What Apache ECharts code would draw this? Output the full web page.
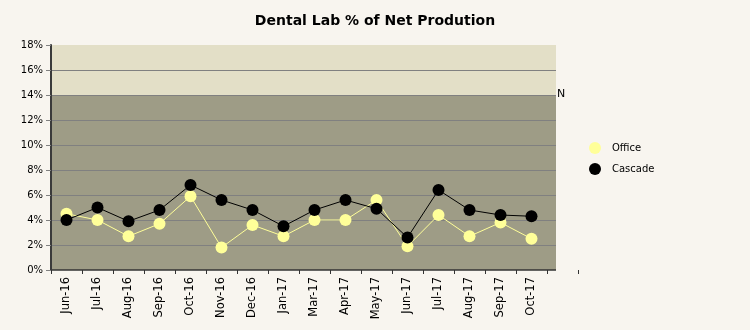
<!DOCTYPE html>
<html>
<head>
<meta charset="utf-8">
<script src="https://cdn.jsdelivr.net/npm/echarts@6/dist/echarts.min.js"></script>
<style>
html,body{margin:0;padding:0;background:#F8F5EF;}
#c{width:750px;height:330px;}
</style>
</head>
<body>
<div id="c"></div>
<script>
var categories = ['Jun-16','Jul-16','Aug-16','Sep-16','Oct-16','Nov-16','Dec-16','Jan-17','Mar-17','Apr-17','May-17','Jun-17','Jul-17','Aug-17','Sep-17','Oct-17',''];
var office  = [4.5, 4.0, 2.7, 3.7, 5.9, 1.8, 3.6, 2.7, 4.0, 4.0, 5.6, 1.9, 4.4, 2.7, 3.8, 2.5];
var cascade = [4.0, 5.0, 3.9, 4.8, 6.8, 5.6, 4.8, 3.5, 4.8, 5.6, 4.9, 2.6, 6.4, 4.8, 4.4, 4.3];
var yTicks = [0, 2, 4, 6, 8, 10, 12, 14, 16, 18];
var bandSplit = 14;

var font = 'DejaVu Sans';
var plotRight = 556;
var gridLines = yTicks.slice(1, yTicks.length - 1).map(function (v) {
  return [{yAxis: v, x: 52}, {yAxis: v, x: plotRight}];
});
var chart = echarts.init(document.getElementById('c'), null, {renderer: 'canvas'});
chart.setOption({
  backgroundColor: '#F8F5EF',
  animation: false,
  title: {
    text: 'Dental Lab % of Net Prodution',
    left: 'center', top: 9,
    textStyle: {fontFamily: font, fontSize: 14, fontWeight: 'bold', color: '#000'}
  },
  legend: {
    orient: 'vertical', left: 589, top: 142, itemGap: 9, padding: 0,
    icon: 'circle', itemWidth: 12, itemHeight: 12,
    textStyle: {fontFamily: font, fontSize: 10, color: '#000', padding: [0,0,0,6]},
    data: ['Office', 'Cascade']
  },
  grid: {left: 51, top: 45, width: 527, height: 225, containLabel: false},
  xAxis: {
    type: 'category', data: categories, boundaryGap: true, z: 6,
    axisLine: {show: false},
    axisTick: {show: true, length: 4, lineStyle: {color: '#333', width: 1}},
    axisLabel: {rotate: 90, fontFamily: font, fontSize: 11.5, color: '#000', margin: 7, interval: 0}
  },
  yAxis: {
    type: 'value', min: yTicks[0], max: yTicks[yTicks.length - 1], interval: yTicks[1] - yTicks[0], z: 6,
    axisLine: {show: true, lineStyle: {color: '#3A3A3A', width: 2}},
    axisTick: {show: true, length: 5, lineStyle: {color: '#808080'}},
    axisLabel: {formatter: '{value}%', fontFamily: font, fontSize: 10, color: '#000', margin: 8},
    splitLine: {show: false}
  },
  graphic: [{type: 'text', left: 557, top: 89, style: {text: 'N', font: '11px DejaVu Sans', fill: '#000'}}],
  series: [
    {
      name: 'Office', type: 'line', data: office, z: 3,
      symbol: 'circle', symbolSize: 12,
      itemStyle: {color: '#FFFF99'},
      lineStyle: {color: '#FFFF99', width: 1},
      markArea: {
        silent: true, z: 1,
        data: [
          [{yAxis: bandSplit, itemStyle: {color: '#E3DFC7'}}, {yAxis: yTicks[yTicks.length - 1], x: plotRight}],
          [{yAxis: yTicks[0], itemStyle: {color: '#9E9C86'}}, {yAxis: bandSplit, x: plotRight}]
        ]
      },
      markLine: {
        silent: true, symbol: 'none', label: {show: false}, z: 2,
        lineStyle: {color: '#808080', width: 1, type: 'solid'},
        data: gridLines.concat([[{yAxis: 0, x: 51, lineStyle: {color: '#333', width: 1.5}}, {yAxis: 0, x: plotRight}]])
      }
    },
    {
      name: 'Cascade', type: 'line', data: cascade, z: 4,
      symbol: 'circle', symbolSize: 12,
      itemStyle: {color: '#000'},
      lineStyle: {color: '#000', width: 1}
    }
  ]
});
</script>
</body>
</html>
